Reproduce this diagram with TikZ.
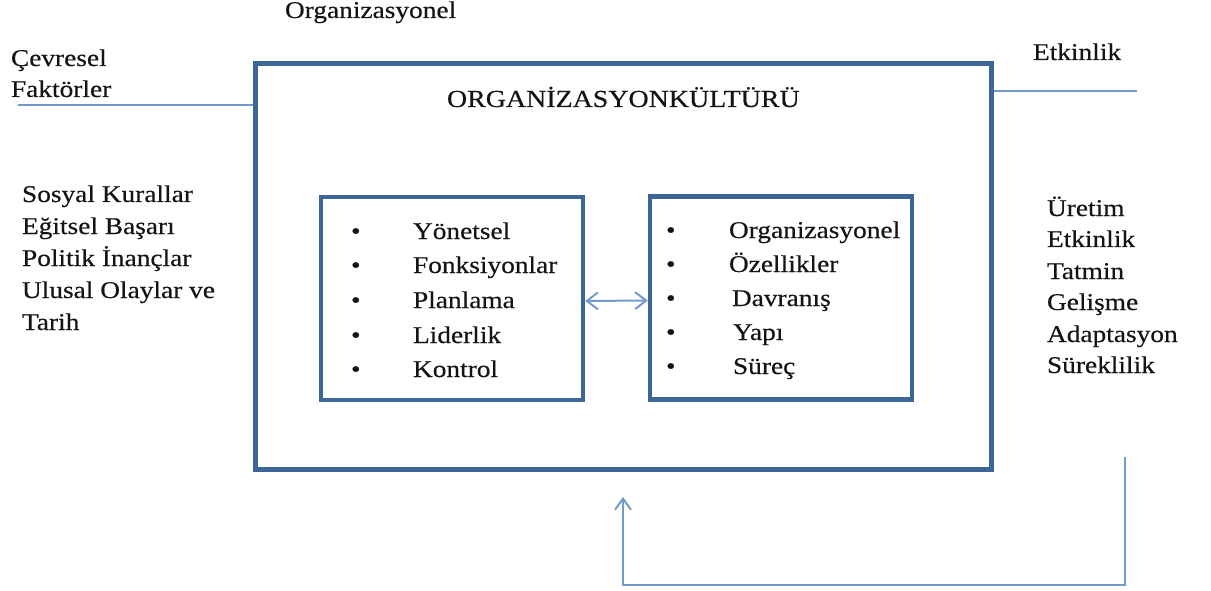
\documentclass[tikz,border=0pt]{standalone}
\usepackage{fontspec}
\setmainfont{Liberation Serif}[FakeStretch=1.14,FakeBold=0.4]
\usetikzlibrary{arrows.meta}
\definecolor{boxblue}{HTML}{3D6698}
\definecolor{lineblue}{HTML}{729ACB}
\tikzset{
  txt/.style={anchor=base west,inner sep=0pt,outer sep=0pt,font=\fontsize{24}{28}\selectfont,text=black!92},
  bigbox/.style={draw=boxblue,line width=5pt,inner sep=0pt,minimum width=736pt,minimum height=405pt},
  smallbox/.style={draw=boxblue,line width=4.5pt,inner sep=0pt,minimum width=262pt,minimum height=203pt},
  conn/.style={draw=lineblue,line width=2.5pt},
  thin/.style={draw=lineblue,line width=2pt},
  tip/.style={-{Straight Barb[length=11pt,width=16pt,line width=2pt]}},
  both/.style={{Straight Barb[length=11pt,width=17pt,line width=2pt]}-{Straight Barb[length=11pt,width=17pt,line width=2pt]}}
}
\begin{document}
\begin{tikzpicture}[x=1pt,y=-1pt]
\useasboundingbox (0,0) rectangle (1211,591);
% frames
\node[bigbox] (outer) at (623,266.5) {};
\node[smallbox] (L) at (452,298.5) {};
\node[smallbox,minimum width=262pt] (R) at (781,298) {};
% top labels
\node[txt] (org) at (285,18) {Organizasyonel};
\node[txt] (cev1) at (11,66) {Çevresel};
\node[txt] (cev2) at (11,97) {Faktörler};
\node[txt] (etk) at (1033,60) {Etkinlik};
\node[txt,font=\fontsize{24.5}{28}\selectfont] (title) at (447,107) {ORGANİZASYONKÜLTÜRÜ};
% left list
\node[txt] (l1) at (22,202) {Sosyal Kurallar};
\node[txt] (l2) at (22,234) {Eğitsel Başarı};
\node[txt] (l3) at (22,266) {Politik İnançlar};
\node[txt] (l4) at (22,298) {Ulusal Olaylar ve};
\node[txt] (l5) at (22,330) {Tarih};
% right list
\node[txt] (r1) at (1047,216) {Üretim};
\node[txt] (r2) at (1047,247) {Etkinlik};
\node[txt] (r3) at (1047,279) {Tatmin};
\node[txt] (r4) at (1047,310) {Gelişme};
\node[txt] (r5) at (1047,342) {Adaptasyon};
\node[txt] (r6) at (1047,373) {Süreklilik};
% inner left box
\foreach \y/\t [count=\i] in {239/Yönetsel,273/Fonksiyonlar,308/Planlama,343/Liderlik,377/Kontrol}{
  \node[txt] (lb\i) at (351,\y) {•};
  \node[txt] (lt\i) at (413,\y) {\t};
}
% inner right box
\foreach \y/\x/\t [count=\i] in {238/729/Organizasyonel,272/729/Özellikler,306/732/Davranış,340/733/Yapı,374/733/Süreç}{
  \node[txt] (rb\i) at (666,\y) {•};
  \node[txt] (rt\i) at (\x,\y) {\t};
}
% connectors
\coordinate (lf) at (18,105);
\draw[conn] (lf) -- (outer.west |- lf);
\coordinate (rf) at (1137,91);
\draw[conn] (outer.east |- rf) -- (rf);
\draw[thin,both] ([yshift=-2.5pt]L.east) -- ([yshift=-2.5pt]R.west);
\coordinate (fb) at (1125,457);
\coordinate (fbtip) at (623,497);
\draw[thin,tip] (fb) -- (fb |- 0,585) -| (fbtip);
\end{tikzpicture}
\end{document}
